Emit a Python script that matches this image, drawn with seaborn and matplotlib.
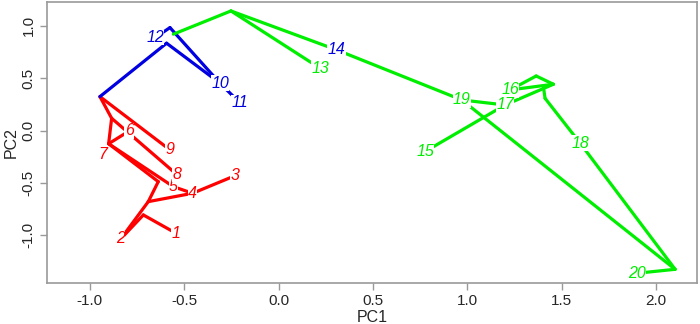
import numpy as np
import pandas as pd
import matplotlib
matplotlib.use("Agg")
import matplotlib.pyplot as plt
import seaborn as sns

# ── data ─────────────────────────────────────────────────────
# labelled points (PC1, PC2) and their cluster colour
point_ids = ["1", "2", "3", "4", "5", "6", "7", "8", "9", "10",
             "11", "12", "13", "14", "15", "16", "17", "18", "19", "20"]
point_x = [-0.543, -0.836, -0.230, -0.455, -0.557, -0.791, -0.900, -0.540, -0.575, -0.310,
           -0.204, -0.654, 0.220, 0.308, 0.776, 1.227, 1.200, 1.598, 0.971, 1.898]
point_y = [-0.980, -1.034, -0.430, -0.598, -0.535, -0.003, -0.125, -0.417, -0.184, 0.453,
           0.264, 0.888, 0.596, 0.771, -0.200, 0.389, 0.245, -0.120, 0.293, -1.362]
point_group = ["r"] * 9 + ["b"] * 3 + ["g", "b"] + ["g"] * 6

# unlabelled joints of the tree
joint_ids = ["a", "c", "d", "e", "f", "b", "h", "p", "g", "j", "k", "l", "m", "n"]
joint_x = [-0.946, -0.884, -0.637, -0.690, -0.716, -0.593, -0.575, -0.557, -0.252,
           1.365, 1.456, 1.403, 1.412, 2.101]
joint_y = [0.325, 0.118, -0.487, -0.678, -0.805, 0.835, 0.984, 0.921, 1.143,
           0.522, 0.443, 0.420, 0.309, -1.324]

red_edges = [("a", "9"), ("a", "c"), ("c", "8"), ("c", "7"), ("7", "6"),
             ("7", "d"), ("7", "5"), ("d", "e"), ("e", "4"), ("4", "3"),
             ("5", "4"), ("e", "2"), ("2", "f"), ("f", "1")]
blue_edges = [("a", "b"), ("b", "10"), ("12", "h"), ("h", "10"), ("10", "11")]
green_edges = [("p", "g"), ("g", "13"), ("g", "14"), ("14", "19"), ("19", "n"),
               ("19", "17"), ("15", "17"), ("17", "k"), ("16", "j"), ("j", "k"),
               ("k", "16"), ("l", "m"), ("m", "18"), ("18", "n"), ("n", "20")]

COLORS = {"r": "#FF0000", "b": "#0000E0", "g": "#00EE00"}
# label nudges (points) where the text sits off its vertex
LABEL_NUDGE = {"7": (-4.5, -7.5)}

# ── build segment table ─────────────────────────────────────
pos = {}
for i, x, y in zip(point_ids, point_x, point_y):
    pos[i] = (x, y)
for i, x, y in zip(joint_ids, joint_x, joint_y):
    pos[i] = (x, y)

rows = []
seg = 0
for grp, edges in [("r", red_edges), ("b", blue_edges), ("g", green_edges)]:
    for u, v in edges:
        for node in (u, v):
            rows.append({"seg": seg, "grp": grp, "x": pos[node][0], "y": pos[node][1]})
        seg += 1
segs = pd.DataFrame(rows)

# ── plot ─────────────────────────────────────────────────────
sns.set_style("white")
plt.rcParams["font.family"] = ["Liberation Sans", "DejaVu Sans"]

fig = plt.figure(figsize=(7.0, 3.24), dpi=100)
ax = fig.add_axes([0.067, 0.1265, 0.929, 0.8675])

sns.lineplot(data=segs, x="x", y="y", hue="grp", units="seg", estimator=None,
             sort=False, palette=COLORS, linewidth=2.3, legend=False, ax=ax)

for i, x, y, g in zip(point_ids, point_x, point_y, point_group):
    dx, dy = LABEL_NUDGE.get(i, (0, 0))
    ax.annotate(i, (x, y), xytext=(dx, dy), textcoords="offset points",
                color=COLORS[g], fontsize=11.5, style="italic",
                ha="center", va="center", zorder=5,
                bbox=dict(boxstyle="square,pad=0.02", fc="white", ec="none"))

ax.set_xlim(-1.227, 2.218)
ax.set_ylim(-1.455, 1.229)
ax.set_xticks([-1.0, -0.5, 0.0, 0.5, 1.0, 1.5, 2.0])
ax.set_yticks([-1.0, -0.5, 0.0, 0.5, 1.0])
ax.set_xticklabels(["-1.0", "-0.5", "0.0", "0.5", "1.0", "1.5", "2.0"])
ax.set_yticklabels(["-1.0", "-0.5", "0.0", "0.5", "1.0"], rotation=90, va="center")
ax.tick_params(axis="both", length=5, width=1, color="#999999", labelsize=11,
               direction="out", bottom=True, left=True, pad=3)
for s in ax.spines.values():
    s.set_color("#999999")
    s.set_linewidth(1.2)
ax.set_xlabel("PC1", fontsize=11.5, labelpad=1)
ax.set_ylabel("PC2", fontsize=11.5, labelpad=2)

fig.savefig("out.png", dpi=100)
